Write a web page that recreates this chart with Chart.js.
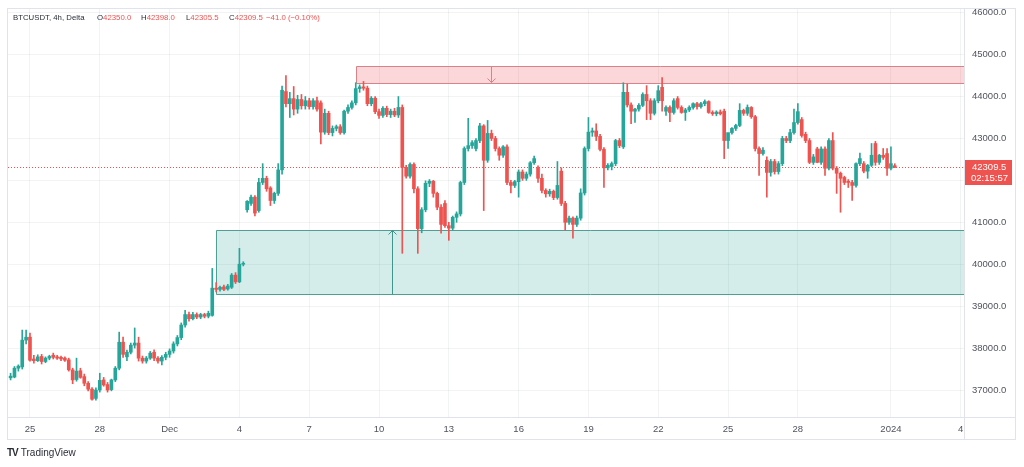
<!DOCTYPE html>
<html>
<head>
<meta charset="utf-8">
<title>BTCUSDT 4h</title>
<script src="https://cdn.jsdelivr.net/npm/chart.js@4.4.0/dist/chart.umd.min.js"></script>
<style>
  html, body { margin: 0; padding: 0; background: #fff; }
  #wrap { position: relative; width: 1024px; height: 467px; overflow: hidden; }
  #chart { position: absolute; left: 0; top: 0; }
  .legend { position: absolute; top: 13px; font: 7.8px "Liberation Sans", Arial, sans-serif; color: #2a2e39; white-space: nowrap; }
  .legend .v { color: #ef5350; }
  #brand { position: absolute; left: 7px; top: 447px; font: 10px "Liberation Sans", Arial, sans-serif; color: #2a2e39; white-space: nowrap; }
  #brand b { font-weight: 900; letter-spacing: -1px; margin-right: 3px; }
</style>
</head>
<body>
<div id="wrap">
  <canvas id="chart" width="1024" height="467"></canvas>
  <div class="legend" style="left:13px">BTCUSDT, 4h, Delta</div>
  <div class="legend" style="left:97px">O<span class="v">42350.0</span></div>
  <div class="legend" style="left:141px">H<span class="v">42398.0</span></div>
  <div class="legend" style="left:186px">L<span class="v">42305.5</span></div>
  <div class="legend" style="left:229px">C<span class="v">42309.5</span></div>
  <div class="legend" style="left:266px"><span class="v">−41.0 (−0.10%)</span></div>
  <div id="brand"><b>TV</b>TradingView</div>
</div>
<script>
// 4h candles, first one = Nov 24 04:00 (day 0 = Nov 25 00:00)
const firstCandleDay = -5 / 6;

const opens = [
  37290, 37310, 37520, 37550, 38190,
  38260, 37740, 37700, 37800, 37680, 37760,
  37830, 37790, 37780, 37760, 37720, 37480,
  37250, 37460, 37320, 37160, 37020, 36800,
  37000, 37240, 37130, 37010, 37240, 37520,
  38140, 37790, 37900, 38070, 38120, 37760,
  37690, 37760, 37900, 37760, 37690, 37780,
  37850, 37930, 38100, 38250, 38550, 38800,
  38700, 38800, 38740, 38800, 38760, 38780,
  39430, 39400, 39460, 39410, 39450, 39740,
  39580, 40000, 41300, 41450, 41600, 41280,
  41950, 42050, 41820, 41520, 41690, 42250,
  44120, 43830, 43950, 43700, 43930, 43780,
  43900, 43760, 43900, 43850, 43150, 43600,
  43140, 43240, 43280, 43140, 43650, 43740,
  43850, 44190, 44230, 44200, 43830, 43960,
  43640, 43550, 43720, 43570, 43650, 43560,
  43740, 42310, 42100, 42380, 41800, 40850,
  41300, 41930, 41980, 41690, 41360, 41450,
  40920, 40860, 41120, 41200, 41950, 42760,
  42830, 42760, 42950, 43300, 42480, 43120,
  43000, 42760, 42600, 42800, 41950, 41880,
  41970, 42200, 42050, 42150, 42420, 42300,
  42050, 41760, 41680, 41740, 41590, 42220,
  41450, 41000, 41100, 40950, 41100, 41700,
  42760, 43150, 43180, 43050, 42740, 42300,
  42330, 42400, 42950, 42800, 44100, 43800,
  43650, 43700, 43790, 44050, 43900, 43600,
  43900, 44220, 43650, 43740, 43620, 43950,
  43740, 43620, 43680, 43740, 43830, 43760,
  43830, 43880, 43620, 43590, 43630, 43650,
  42950, 43140, 43240, 43310, 43670, 43600,
  43740, 43520, 42760, 42640, 42480, 42190,
  42450, 42210, 42400, 43000, 42950, 43140,
  43380, 43450, 43100, 42950, 42430, 42750,
  42430, 42750, 42290, 42950, 42290, 42170,
  42070, 41980, 41950, 41880, 42400, 42400,
  42220, 42360, 42880, 42430, 42600, 42640,
  42290, 42350
];
const highs = [
  37400, 37560, 37600, 38430, 38430,
  38360, 37830, 37840, 37850, 37790, 37830,
  37880, 37830, 37810, 37790, 37760, 37520,
  37760, 37520, 37380, 37200, 37060, 37050,
  37400, 37300, 37180, 37260, 37560, 38380,
  38260, 37950, 38120, 38480, 38260, 37810,
  37800, 37920, 37960, 37800, 37820, 37900,
  37980, 38150, 38300, 38600, 38900, 38860,
  38850, 38840, 38830, 38830, 38880, 39900,
  39560, 39480, 39500, 39520, 39780, 39800,
  40380, 40060, 41520, 41650, 41640, 42050,
  42400, 42100, 41850, 41720, 42400, 44250,
  44500, 44100, 44240, 44030, 44050, 44000,
  43960, 43950, 43990, 43900, 43700, 43650,
  43300, 43320, 43330, 43680, 43800, 43900,
  44330, 44280, 44360, 44250, 44000, 44000,
  43700, 43760, 43770, 43700, 43720, 44000,
  43800, 42360, 42420, 42420, 41850, 41350,
  41990, 42020, 42000, 41720, 41420, 41520,
  41000, 41150, 41250, 41980, 42800, 43480,
  42950, 43000, 43360, 43330, 43430, 43200,
  43050, 42800, 42830, 42850, 42000, 42000,
  42250, 42250, 42200, 42450, 42580, 42350,
  42150, 41800, 41790, 41770, 42450, 42300,
  41500, 41150, 41130, 41150, 41800, 42800,
  43500, 43250, 43350, 43100, 42780, 42400,
  42440, 42980, 43000, 44330, 44300, 43850,
  43720, 43830, 44090, 44260, 43950, 43950,
  44260, 44450, 43780, 43780, 43950, 44000,
  43780, 43720, 43780, 43850, 43860, 43860,
  43920, 43900, 43660, 43660, 43680, 43700,
  43000, 43260, 43340, 43830, 43700, 43800,
  43760, 43550, 42800, 42780, 42560, 42500,
  42500, 42450, 43050, 43050, 43220, 43700,
  43830, 43500, 43150, 43000, 42620, 42790,
  42800, 42800, 43000, 43140, 42330, 42200,
  42100, 42020, 42000, 42420, 42650, 42450,
  42380, 42880, 42930, 42620, 42760, 42760,
  42800, 42398
];
const lows = [
  37240, 37290, 37450, 37500, 38100,
  37690, 37640, 37680, 37620, 37650, 37720,
  37740, 37730, 37700, 37680, 37450, 37150,
  37210, 37280, 37100, 36980, 36760, 36760,
  36950, 37090, 36950, 36980, 37200, 37480,
  37780, 37700, 37860, 38000, 37690, 37640,
  37640, 37730, 37700, 37640, 37600, 37720,
  37780, 37880, 38050, 38200, 38500, 38640,
  38670, 38700, 38700, 38720, 38720, 38760,
  39340, 39360, 39370, 39380, 39420, 39540,
  39560, 39960, 41240, 41400, 41150, 41240,
  41900, 41740, 41400, 41450, 41640, 42150,
  43750, 43500, 43560, 43600, 43700, 43700,
  43700, 43700, 43650, 42870, 43100, 43090,
  43060, 43180, 43100, 43100, 43600, 43700,
  43800, 44100, 44150, 43780, 43780, 43590,
  43480, 43500, 43520, 43500, 43520, 43500,
  40260, 42050, 42050, 41700, 40260, 40750,
  41250, 41850, 41600, 41300, 40740, 40880,
  40570, 40820, 41000, 41150, 41900, 42700,
  42760, 42700, 42900, 41280, 42430, 42950,
  42700, 42480, 42550, 41900, 41700, 41830,
  41600, 42000, 42000, 42100, 42380, 41950,
  41700, 41600, 41620, 41540, 41550, 41400,
  40810, 40950, 40620, 40900, 41050, 41650,
  42700, 43050, 42950, 42700, 41830, 42250,
  42250, 42350, 42780, 42760, 43750, 43350,
  43380, 43650, 43760, 43450, 43450, 43560,
  43850, 43650, 43550, 43400, 43580, 43700,
  43600, 43430, 43640, 43700, 43700, 43720,
  43780, 43600, 43550, 43540, 43560, 42520,
  42760, 43100, 43190, 43280, 43550, 43550,
  43480, 42700, 42120, 42600, 41600, 42100,
  42150, 42150, 42350, 42900, 42900, 43100,
  43340, 43030, 42900, 42400, 42380, 42420,
  42380, 42120, 42250, 42250, 41690, 41240,
  41900, 41830, 41520, 41840, 42350, 42180,
  42050, 42330, 42360, 42380, 42500, 42120,
  42250, 42305.5
];
const closes = [
  37330, 37520, 37570, 38190, 38260,
  37710, 37700, 37790, 37680, 37760, 37800,
  37780, 37760, 37740, 37710, 37480, 37240,
  37450, 37300, 37160, 37020, 36780, 37000,
  37230, 37120, 37000, 37240, 37520, 38140,
  37850, 37900, 38070, 38120, 37760, 37690,
  37760, 37880, 37760, 37690, 37780, 37850,
  37930, 38100, 38250, 38550, 38800, 38700,
  38800, 38740, 38800, 38760, 38830, 39430,
  39400, 39450, 39400, 39480, 39740, 39580,
  40000, 40020, 41500, 41600, 41220, 41950,
  42050, 41800, 41520, 41690, 42250, 44150,
  43830, 43950, 43700, 43930, 43780, 43900,
  43760, 43900, 43700, 43150, 43600, 43140,
  43240, 43280, 43140, 43650, 43740, 43850,
  44190, 44230, 44200, 43830, 43960, 43640,
  43550, 43720, 43570, 43650, 43560, 43740,
  42310, 42100, 42380, 41800, 40850, 41300,
  41930, 41980, 41690, 41360, 40950, 40920,
  40860, 41120, 41200, 41950, 42760, 42830,
  42900, 42950, 43300, 42480, 43120, 43000,
  42760, 42600, 42800, 41950, 41880, 41970,
  42200, 42050, 42150, 42420, 42520, 42050,
  41760, 41680, 41740, 41590, 41880, 41450,
  41000, 41100, 40950, 41100, 41700, 42760,
  43150, 43180, 43050, 42740, 42300, 42360,
  42400, 42950, 42830, 44100, 43800, 43650,
  43700, 43790, 44050, 43900, 43600, 43900,
  44140, 43900, 43740, 43620, 43900, 43740,
  43620, 43680, 43740, 43830, 43760, 43830,
  43880, 43620, 43590, 43630, 43590, 42950,
  43140, 43240, 43310, 43670, 43600, 43740,
  43520, 42760, 42640, 42720, 42190, 42450,
  42210, 42400, 43000, 42950, 43140, 43380,
  43640, 43070, 42950, 42430, 42560, 42430,
  42750, 42290, 42950, 42290, 42170, 42050,
  41950, 41950, 41880, 42400, 42520, 42220,
  42360, 42600, 42430, 42600, 42550, 42290,
  42400, 42309.5
];

// time axis: day offsets from Nov 25 and their labels
const dayTicks = [0, 3, 6, 9, 12, 15, 18, 21, 24, 27, 30, 33, 37, 40];
const dayLabels = ['25', '28', 'Dec', '4', '7', '10', '13', '16', '19', '22', '25', '28', '2024', '4'];
const priceTicks = [37000, 38000, 39000, 40000, 41000, 42000, 43000, 44000, 45000, 46000];

// drawn zones (price bounds) and where they start
const supplyZone = [44330, 44740];
const supplyStartDay = 14;
const supplyArrowDay = 19.8;
const demandZone = [39290, 40810];
const demandStartDay = 8;
const demandArrowDay = 15.55;

const lastPrice = 42309.5;
const lastPriceTimer = '02:15:57';

const upColor = '#26a69a';
const downColor = '#ef5350';
const gridColor = 'rgba(42, 46, 57, 0.06)';
const frameColor = '#e0e3eb';
const labelColor = '#50535e';

const candleDays = opens.map((o, i) => firstCandleDay + i / 6);
const candleColors = opens.map((o, i) => closes[i] >= o ? upColor : downColor);

function arrow(ctx, x, yFrom, yTo, color) {
    const dir = yTo > yFrom ? -1 : 1;
    ctx.strokeStyle = color;
    ctx.lineWidth = 1;
    ctx.beginPath();
    ctx.moveTo(x, yFrom);
    ctx.lineTo(x, yTo);
    ctx.moveTo(x - 4, yTo + dir * 4);
    ctx.lineTo(x, yTo);
    ctx.lineTo(x + 4, yTo + dir * 4);
    ctx.stroke();
}

// keep the plot box fixed: no extra room for half labels at the ends
function noEdgePadding(s) {
    s.paddingTop = 0;
    s.paddingBottom = 0;
    s.paddingLeft = 0;
    s.paddingRight = 0;
}

/* zones, last price line, frame and price label */
const overlay = {
    id: 'overlay',
    beforeDatasetsDraw(chart) {
        const {ctx, chartArea: a, scales: {x, y}} = chart;
        ctx.save();
        ctx.beginPath();
        ctx.rect(a.left, a.top, a.right - a.left, a.bottom - a.top);
        ctx.clip();

        // demand zone
        let x0 = Math.round(x.getPixelForValue(demandStartDay)) + 0.5;
        let yT = Math.round(y.getPixelForValue(demandZone[1])) + 0.5;
        let yB = Math.round(y.getPixelForValue(demandZone[0])) + 0.5;
        ctx.fillStyle = 'rgba(38, 166, 154, 0.2)';
        ctx.fillRect(x0, yT, a.right - x0, yB - yT);
        ctx.strokeStyle = '#4f9f95';
        ctx.lineWidth = 1;
        ctx.beginPath();
        ctx.moveTo(a.right, yT); ctx.lineTo(x0, yT); ctx.lineTo(x0, yB); ctx.lineTo(a.right, yB);
        ctx.stroke();
        arrow(ctx, Math.round(x.getPixelForValue(demandArrowDay)) + 0.5, yB, yT, '#3f958b');

        // supply zone
        x0 = Math.round(x.getPixelForValue(supplyStartDay)) + 0.5;
        yT = Math.round(y.getPixelForValue(supplyZone[1])) + 0.5;
        yB = Math.round(y.getPixelForValue(supplyZone[0])) + 0.5;
        ctx.fillStyle = 'rgba(242, 54, 69, 0.2)';
        ctx.fillRect(x0, yT, a.right - x0, yB - yT);
        ctx.strokeStyle = '#d9828a';
        ctx.beginPath();
        ctx.moveTo(a.right, yT); ctx.lineTo(x0, yT); ctx.lineTo(x0, yB); ctx.lineTo(a.right, yB);
        ctx.stroke();
        arrow(ctx, Math.round(x.getPixelForValue(supplyArrowDay)) + 0.5, yT, yB - 1, '#d9828a');

        // last price dotted line
        const py = Math.round(y.getPixelForValue(lastPrice)) + 0.5;
        ctx.strokeStyle = downColor;
        ctx.setLineDash([1, 2]);
        ctx.beginPath();
        ctx.moveTo(a.left, py);
        ctx.lineTo(a.right, py);
        ctx.stroke();
        ctx.restore();
    },
    afterDraw(chart) {
        const {ctx, chartArea: a, scales: {x, y}} = chart;
        const right = a.right + y.width;
        const bottom = a.bottom + x.height;
        ctx.save();
        ctx.strokeStyle = frameColor;
        ctx.lineWidth = 1;
        ctx.strokeRect(a.left - 0.5, a.top + 0.5, right - a.left + 1, bottom - a.top);
        ctx.beginPath();
        ctx.moveTo(a.right + 0.5, a.top);
        ctx.lineTo(a.right + 0.5, bottom);
        ctx.moveTo(a.left, a.bottom + 0.5);
        ctx.lineTo(right, a.bottom + 0.5);
        ctx.stroke();

        // last price label on the price axis
        const py = y.getPixelForValue(lastPrice);
        ctx.fillStyle = downColor;
        ctx.fillRect(a.right + 1, Math.round(py) - 7, 47, 25);
        ctx.fillStyle = '#fff';
        ctx.font = '9.5px "Liberation Sans", Arial, sans-serif';
        ctx.textBaseline = 'middle';
        ctx.textAlign = 'left';
        ctx.fillText(lastPrice.toFixed(1), a.right + 8, py);
        ctx.fillText(lastPriceTimer, a.right + 7, py + 11);
        ctx.restore();
    }
};

new Chart(document.getElementById('chart'), {
    type: 'bar',
    data: {
        datasets: [
            {
                label: 'body',
                data: opens.map((o, i) => ({x: candleDays[i], y: [o, closes[i]]})),
                backgroundColor: candleColors,
                barThickness: 3,
                minBarLength: 1,
                grouped: false,
                order: 0
            },
            {
                label: 'wick',
                data: lows.map((l, i) => ({x: candleDays[i], y: [l, highs[i]]})),
                backgroundColor: candleColors,
                barThickness: 1,
                grouped: false,
                order: 1
            }
        ]
    },
    options: {
        responsive: false,
        animation: false,
        layout: {padding: {left: 8, top: 8, right: 9, bottom: 28}},
        plugins: {
            legend: {display: false},
            tooltip: {enabled: false}
        },
        scales: {
            x: {
                type: 'linear',
                min: -0.945,
                max: 40.14,
                offset: false,
                afterBuildTicks: s => { s.ticks = dayTicks.map(v => ({value: v})); },
                afterFit: s => { s.height = 22; noEdgePadding(s); },
                ticks: {
                    autoSkip: false,
                    maxRotation: 0,
                    padding: 7,
                    color: labelColor,
                    font: {family: '"Liberation Sans", Arial, sans-serif', size: 9.5},
                    callback: (v, i) => dayLabels[i]
                },
                grid: {color: gridColor, drawTicks: false, offset: false},
                border: {display: false}
            },
            y: {
                position: 'right',
                min: 36356,
                max: 46112,
                afterBuildTicks: s => { s.ticks = priceTicks.map(v => ({value: v})); },
                afterFit: s => { s.width = 51; noEdgePadding(s); },
                ticks: {
                    padding: 8,
                    color: labelColor,
                    font: {family: '"Liberation Sans", Arial, sans-serif', size: 9.5},
                    callback: v => v === 42000 ? '' : v.toFixed(1)
                },
                grid: {color: gridColor, drawTicks: false},
                border: {display: false}
            }
        }
    },
    plugins: [overlay]
});
</script>
</body>
</html>
